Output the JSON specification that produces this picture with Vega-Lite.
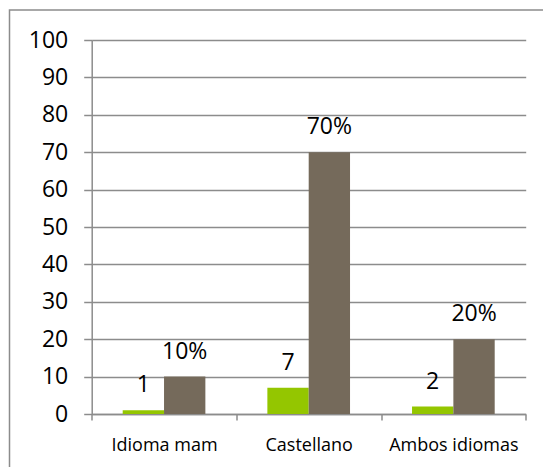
{
  "$schema": "https://vega.github.io/schema/vega-lite/v6.json",
  "width": 535.5,
  "height": 459,
  "autosize": "none",
  "padding": {"left": 9.5, "top": 10, "right": -2, "bottom": -2},
  "background": "white",
  "config": {"view": {"stroke": "#8c8c8c", "strokeWidth": 1.5}, "font": "Open Sans"},
  "data": {
    "values": [
      {"cat": "Idioma mam", "series": "Cantidad", "value": 1, "label": "1"},
      {"cat": "Idioma mam", "series": "Porcentaje", "value": 10, "label": "10%"},
      {"cat": "Castellano", "series": "Cantidad", "value": 7, "label": "7"},
      {"cat": "Castellano", "series": "Porcentaje", "value": 70, "label": "70%"},
      {"cat": "Ambos idiomas", "series": "Cantidad", "value": 2, "label": "2"},
      {"cat": "Ambos idiomas", "series": "Porcentaje", "value": 20, "label": "20%"}
    ]
  },
  "encoding": {
    "x": {
      "field": "cat",
      "type": "nominal",
      "sort": ["Idioma mam", "Castellano", "Ambos idiomas"],
      "scale": {"paddingInner": 0, "paddingOuter": 0, "range": [82.2, 516.2]},
      "axis": {
        "title": null,
        "offset": -55,
        "labelAngle": 0,
        "tickBand": "extent",
        "tickSize": 6,
        "tickWidth": 1.5,
        "tickColor": "#8c8c8c",
        "domainColor": "#8c8c8c",
        "domainWidth": 1.5,
        "labelFontSize": 18,
        "labelColor": "#000000",
        "labelPadding": 16,
        "grid": false
      }
    },
    "xOffset": {
      "field": "series",
      "type": "nominal",
      "sort": ["Cantidad", "Porcentaje"],
      "scale": {"paddingInner": 0, "paddingOuter": 0.75}
    },
    "y": {
      "field": "value",
      "type": "quantitative",
      "scale": {"domain": [0, 100], "nice": false, "range": [404, 30]},
      "axis": {
        "title": null,
        "offset": -82.2,
        "values": [0, 10, 20, 30, 40, 50, 60, 70, 80, 90, 100],
        "tickSize": 8,
        "tickWidth": 1.5,
        "tickColor": "#8c8c8c",
        "domainColor": "#8c8c8c",
        "domainWidth": 1.5,
        "grid": true,
        "gridColor": "#8c8c8c",
        "gridWidth": 1.5,
        "gridOpacity": 1,
        "labelFontSize": 23,
        "labelColor": "#000000",
        "labelPadding": 16
      }
    }
  },
  "layer": [
    {
      "mark": {"type": "bar"},
      "encoding": {
        "color": {
          "field": "series",
          "type": "nominal",
          "scale": {"domain": ["Cantidad", "Porcentaje"], "range": ["#94C600", "#756A5B"]},
          "legend": null
        }
      }
    },
    {
      "mark": {"type": "text", "baseline": "alphabetic", "dy": -18, "fontSize": 23, "color": "#000000"},
      "encoding": {"text": {"field": "label", "type": "nominal"}}
    }
  ]
}
